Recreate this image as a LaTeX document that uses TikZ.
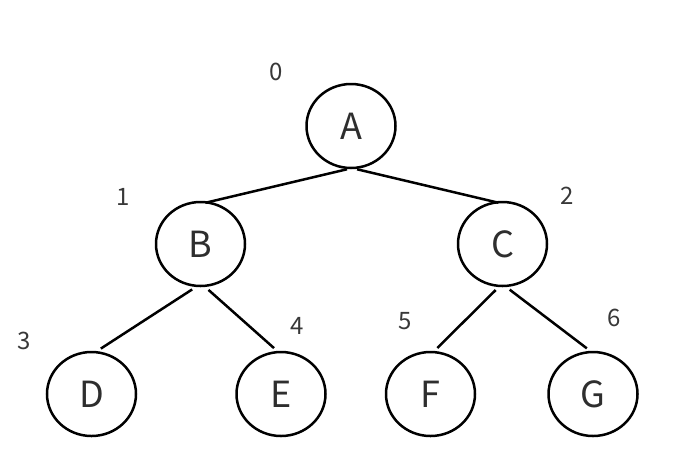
\documentclass[tikz,border=0pt]{standalone}
\usepackage{fontspec}
\setmainfont{Noto Sans CJK SC}
\usetikzlibrary{shapes.geometric}
\begin{document}
\begin{tikzpicture}[x=1pt,y=-1pt,
  tnode/.style={draw=black, line width=2.5pt, ellipse, minimum width=89pt, minimum height=84pt, inner sep=0pt, font=\fontsize{36}{40}\selectfont, text=black!82},
  idx/.style={font=\fontsize{24}{28}\selectfont, text=black!78, inner sep=0pt},
  edge/.style={line width=2.5pt}]
\useasboundingbox (0,0) rectangle (692,475);
\node[tnode] (A) at (351,126) {A};
\node[tnode] (B) at (200.5,244) {B};
\node[tnode] (C) at (502.5,244) {C};
\node[tnode] (D) at (91.5,394) {D};
\node[tnode] (E) at (281,394) {E};
\node[tnode] (F) at (430.5,394) {F};
\node[tnode] (G) at (593,394) {G};
\node[idx] (l0) at (276,72) {0};
\node[idx] (l1) at (123,197) {1};
\node[idx] (l2) at (567,196) {2};
\node[idx] (l3) at (24,341) {3};
\node[idx] (l4) at (297,326) {4};
\node[idx] (l5) at (405,321) {5};
\node[idx] (l6) at (614,318) {6};
\draw[edge] ([xshift=-4pt]A.south) -- ([xshift=5pt,yshift=-2pt]B.north);
\draw[edge] ([xshift=6pt]A.south) -- ([xshift=-4pt,yshift=-2pt]C.north);
\draw[edge, shorten <=4pt, shorten >=4pt] ([xshift=-5pt]B.south) -- ([xshift=6pt]D.north);
\draw[edge, shorten <=4pt, shorten >=4pt] ([xshift=5pt]B.south) -- ([xshift=-4pt]E.north);
\draw[edge, shorten <=4pt, shorten >=4pt] ([xshift=-4pt]C.south) -- ([xshift=4pt]F.north);
\draw[edge, shorten <=4pt, shorten >=4pt] ([xshift=4pt]C.south) -- ([xshift=-3pt]G.north);
\end{tikzpicture}
\end{document}
